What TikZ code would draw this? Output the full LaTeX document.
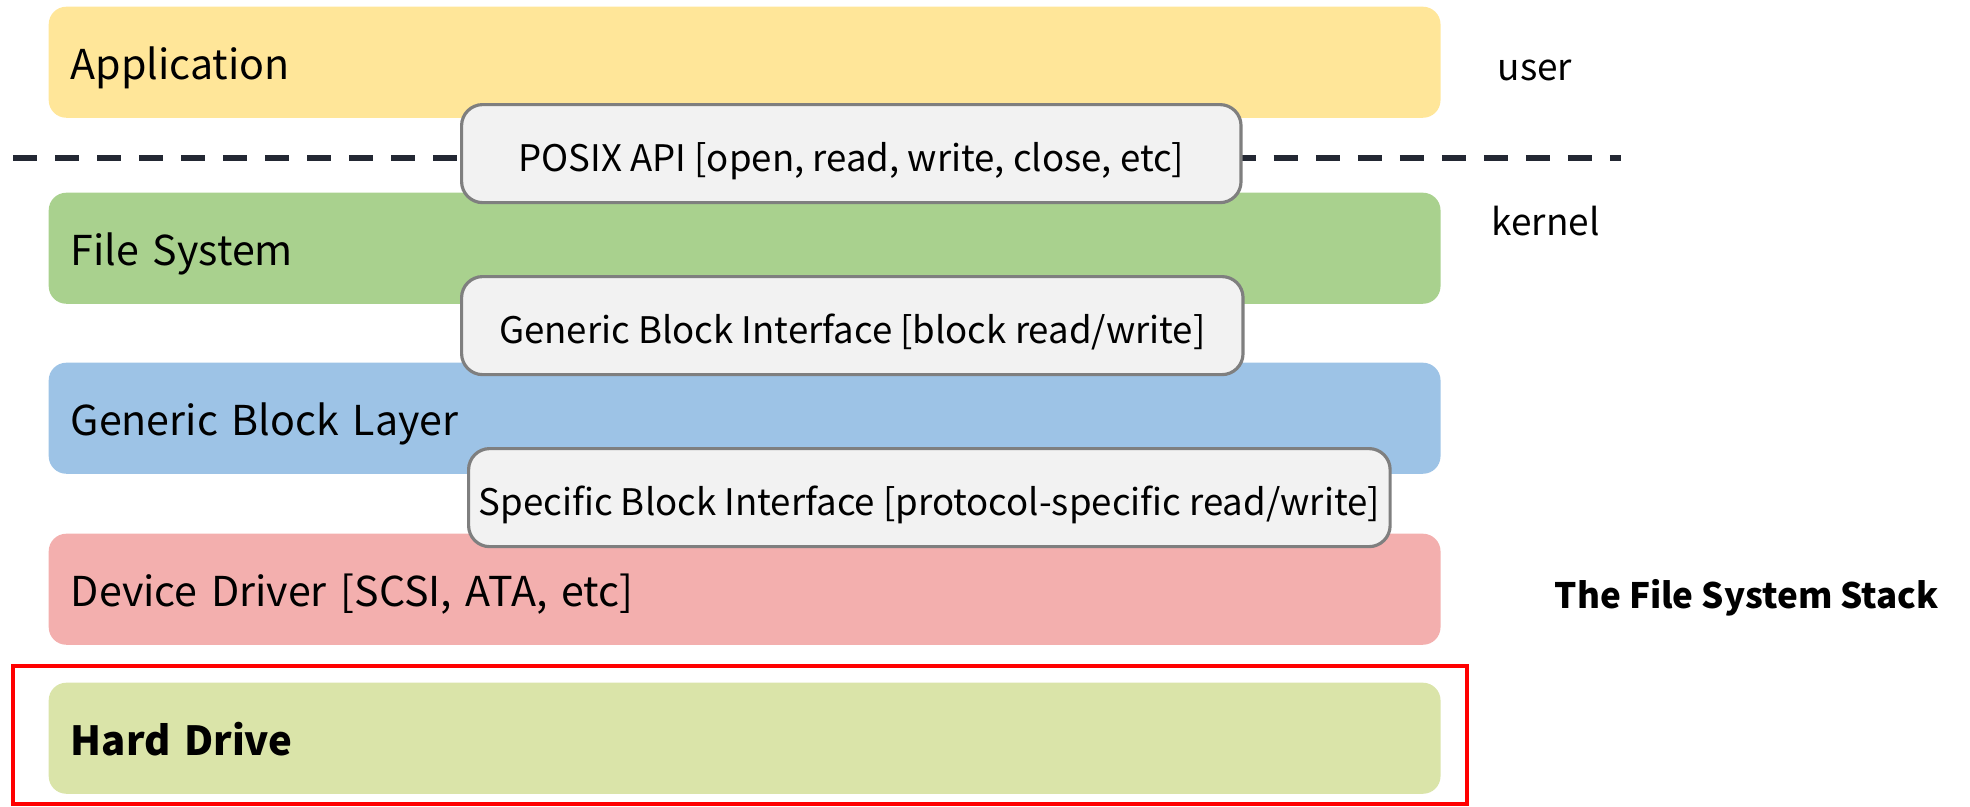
\documentclass[tikz,border=0pt]{standalone}
\usepackage{fontspec}
\setmainfont{Noto Sans CJK KR}
\usepackage{tikz}
\usepackage{xcolor}

\definecolor{appyellow}{HTML}{FFE699}
\definecolor{fsgreen}{HTML}{A9D18E}
\definecolor{blkblue}{HTML}{9DC3E6}
\definecolor{drvpink}{HTML}{F3AFAE}
\definecolor{hdgreen}{HTML}{DAE4A9}
\definecolor{boxgray}{HTML}{F2F2F2}
\definecolor{boxline}{HTML}{7F7F7F}
\definecolor{dashnavy}{HTML}{232833}

\begin{document}
\begin{tikzpicture}[x=0.01cm,y=-0.01cm,
    layer/.style={rectangle, rounded corners=5pt, anchor=north west,
        minimum width=13.91cm, minimum height=1.11cm, text width=13.47cm,
        inner xsep=0.22cm, align=left, text height=1em, text depth=0pt,
        font=\fontsize{11.7}{14}\selectfont},
    iface/.style={rectangle, rounded corners=6pt, anchor=north west, draw=boxline,
        line width=0.9pt, fill=boxgray, minimum height=0.98cm, inner xsep=2pt,
        text height=1em, text depth=0pt, font=\fontsize{10.4}{13}\selectfont},
    side/.style={anchor=base west, inner sep=0pt, font=\fontsize{10.5}{13}\selectfont}]

    \useasboundingbox (0,0) rectangle (1970,806);

    % the layers
    \node[layer, fill=appyellow] (app) at (48,6) {Application};
    \node[layer, fill=fsgreen] (fs) at (48,192) {File System};
    \node[layer, fill=blkblue] (gbl) at (48,362) {Generic Block Layer};
    \node[layer, fill=drvpink] (dd) at (48,533) {Device Driver [SCSI, ATA, etc]};
    \node[layer, fill=hdgreen] (hd) at (48,682)
        {\fontsize{11.4}{14}\selectfont\textbf{Hard Drive}};

    % user / kernel border
    \coordinate (dashL) at (13,158);
    \coordinate (dashR) at (1621,158);
    \draw[dashnavy, line width=1.45pt, dash pattern=on 0.24cm off 0.18cm] (dashL) -- (dashR);

    % interfaces between layers
    \node[iface, minimum width=7.79cm] (posix) at (460,103)
        {POSIX API [open, read, write, close, etc]};
    \node[iface, minimum width=7.81cm] (gbi) at (460,275)
        {Generic Block Interface [block read/write]};
    \node[iface, minimum width=9.21cm] (sbi) at (467,447)
        {Specific Block Interface [protocol-specific read/write]};

    % hard drive highlight
    \draw[red, line width=1.15pt] (13,666) rectangle (1467,804);

    \node[side] (user) at (1497,80) {user};
    \node[side] (kernel) at (1491,235) {kernel};
    \node[side, font=\fontsize{9.95}{12}\selectfont] (title) at (1554,608)
        {\textbf{The File System Stack}};
\end{tikzpicture}
\end{document}
